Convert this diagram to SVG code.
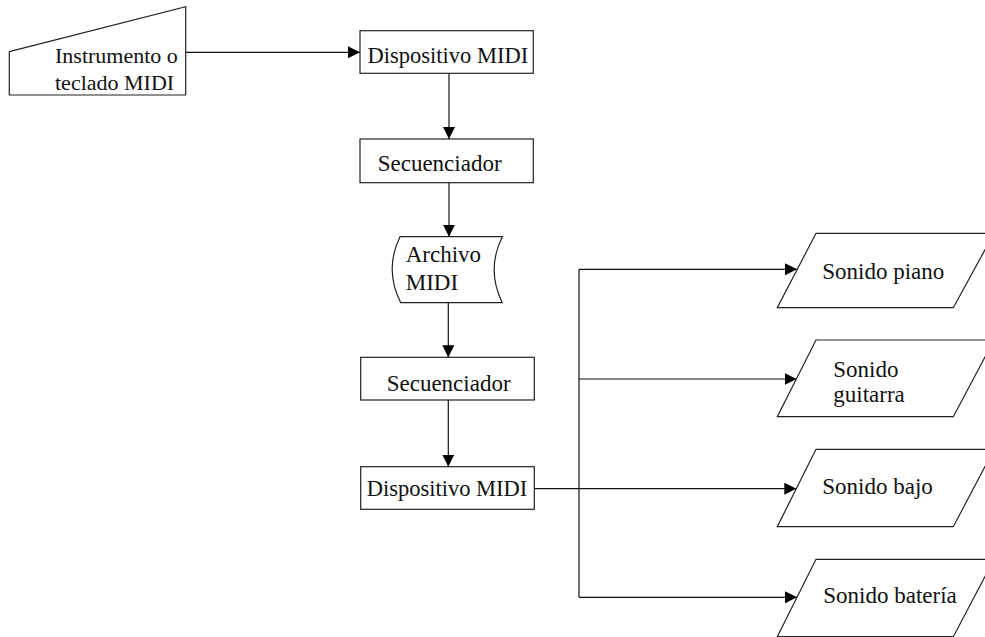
<svg xmlns="http://www.w3.org/2000/svg" width="985" height="637" viewBox="0 0 985 637">
<defs>
<marker id="arr" markerUnits="userSpaceOnUse" markerWidth="12" markerHeight="12" refX="12" refY="6" orient="auto">
<path d="M0,0 L12,6 L0,12 z" fill="#000"/>
</marker>
<style>
.shape{fill:#fff;stroke:#222;stroke-width:1.2}
.conn{fill:none;stroke:#111;stroke-width:1.2}
.arrow{marker-end:url(#arr)}
text{font-family:"Liberation Serif","Times New Roman",serif;font-size:23px;fill:#111}
.sm{font-size:22.5px}
.xs{font-size:22px}
</style>
</defs>
<rect width="985" height="637" fill="#fff"/>
<g id="connectors">
<line class="conn arrow" x1="185.7" y1="52.3" x2="360" y2="52.3"/>
<line class="conn arrow" x1="449" y1="73.3" x2="449" y2="139"/>
<line class="conn arrow" x1="449" y1="182.7" x2="449" y2="236.7"/>
<line class="conn arrow" x1="448.3" y1="302.7" x2="448.3" y2="357.3"/>
<line class="conn arrow" x1="448.3" y1="400" x2="448.3" y2="466.7"/>
<line class="conn" x1="579" y1="269.3" x2="579" y2="597.3"/>
<line class="conn arrow" x1="579" y1="269.3" x2="797" y2="269.3"/>
<line class="conn arrow" x1="579" y1="379" x2="796.5" y2="379"/>
<line class="conn arrow" x1="534.3" y1="488.7" x2="796.3" y2="488.7"/>
<line class="conn arrow" x1="579" y1="597.3" x2="797" y2="597.3"/>
</g>
<g id="instrumento">
<polygon class="shape" points="9.3,51.7 185.7,6.7 185.7,95 9.3,95"/>
<text class="xs" x="55" y="62.7">Instrumento o</text>
<text class="xs" x="55" y="90">teclado MIDI</text>
</g>
<g id="dispositivo1">
<rect class="shape" x="360" y="30.7" width="173.3" height="42.6"/>
<text class="sm" x="367.5" y="63.3">Dispositivo MIDI</text>
</g>
<g id="secuenciador1">
<rect class="shape" x="360" y="139" width="173.3" height="43.7"/>
<text x="377.7" y="170.5">Secuenciador</text>
</g>
<g id="archivo">
<path class="shape" d="M400,236.7 H502.3 Q486,269.7 502.3,302.7 H400.7 Q384,269.7 400,236.7 Z"/>
<text x="405.7" y="262.3">Archivo</text>
<text x="405.7" y="290">MIDI</text>
</g>
<g id="secuenciador2">
<rect class="shape" x="360.7" y="357.3" width="173.6" height="42.7"/>
<text x="386.7" y="390.7">Secuenciador</text>
</g>
<g id="dispositivo2">
<rect class="shape" x="360.7" y="466.7" width="173.6" height="42.6"/>
<text class="sm" x="366.7" y="496">Dispositivo MIDI</text>
</g>
<g id="piano">
<polygon class="shape" points="816,233.3 994,233.3 953.3,307.7 777.3,307.7"/>
<text x="822.3" y="279.3">Sonido piano</text>
</g>
<g id="guitarra">
<polygon class="shape" points="816,340 994,340 953.3,416.7 777.3,416.7"/>
<text x="833.3" y="376.7">Sonido</text>
<text x="833.3" y="401.7">guitarra</text>
</g>
<g id="bajo">
<polygon class="shape" points="816,449.3 994,449.3 953.3,526.7 777.3,526.7"/>
<text x="822.3" y="494">Sonido bajo</text>
</g>
<g id="bateria">
<polygon class="shape" points="816,559.3 994,559.3 953.3,636.7 777.3,636.7"/>
<text x="823.3" y="602.7">Sonido batería</text>
</g>
</svg>
